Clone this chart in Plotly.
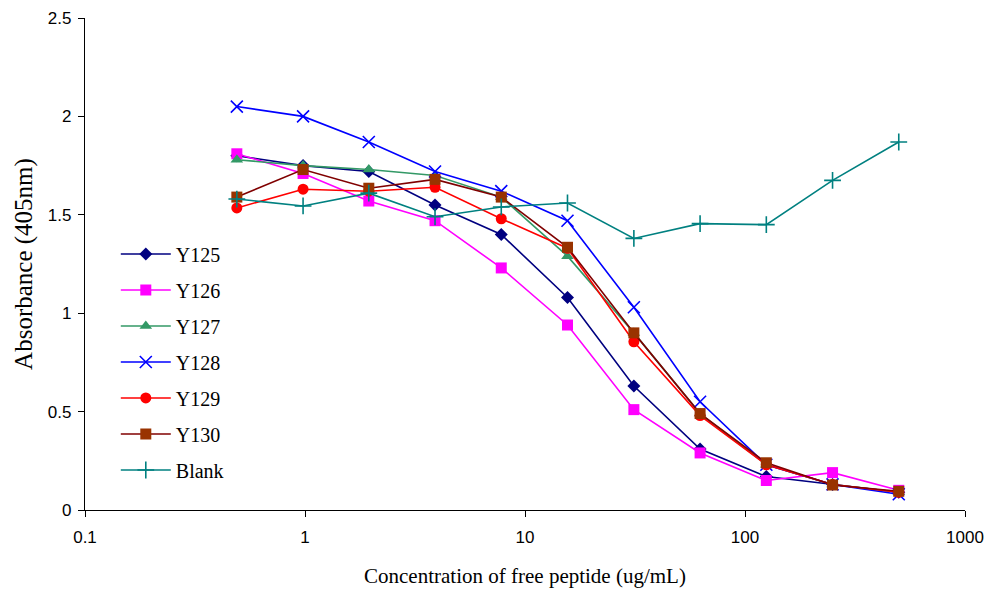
import plotly.graph_objects as go

conc = [0.49, 0.98, 1.95, 3.9, 7.8, 15.6, 31.25, 62.5, 125, 250, 500]

y125 = [1.80, 1.75, 1.72, 1.55, 1.40, 1.08, 0.63, 0.31, 0.17, 0.13, 0.09]
y126 = [1.81, 1.71, 1.57, 1.47, 1.23, 0.94, 0.51, 0.29, 0.15, 0.19, 0.10]
y127 = [1.78, 1.75, 1.73, 1.70, 1.59, 1.29, 0.90, 0.49, 0.23, 0.13, 0.09]
y128 = [2.05, 2.00, 1.87, 1.72, 1.62, 1.47, 1.03, 0.55, 0.23, 0.13, 0.08]
y129 = [1.535, 1.63, 1.62, 1.64, 1.48, 1.33, 0.855, 0.48, 0.23, 0.13, 0.09]
y130 = [1.59, 1.73, 1.635, 1.68, 1.59, 1.335, 0.90, 0.49, 0.24, 0.127, 0.095]
blank = [1.58, 1.545, 1.61, 1.49, 1.54, 1.56, 1.38, 1.455, 1.45, 1.675, 1.87]

names = ["Y125", "Y126", "Y127", "Y128", "Y129", "Y130", "Blank"]
series = [y125, y126, y127, y128, y129, y130, blank]
line_colors = ["#000080", "#FF00FF", "#339966", "#0000FF", "#FF0000", "#800000", "#008080"]
marker_colors = ["#000080", "#FF00FF", "#339966", "#0000FF", "#FF0000", "#993300", "#008080"]
symbols = ["diamond", "square", "triangle-up", "x-thin", "circle", "square", "cross-thin"]
sizes = [10, 11, 11, 12, 11, 11, 12]

fig = go.Figure()
for i, (n, ys) in enumerate(zip(names, series)):
    thin = symbols[i].endswith("thin")
    fig.add_trace(go.Scatter(
        x=conc, y=ys, name=n, mode="lines+markers",
        legendgroup=n,
        line=dict(color=line_colors[i], width=1.6),
        marker=dict(symbol=symbols[i], size=sizes[i], color=marker_colors[i],
                    line=dict(color=marker_colors[i], width=1.6 if thin else 0)),
    ))

fig.update_layout(
    width=999, height=590,
    margin=dict(l=85, r=34, t=18, b=80),
    paper_bgcolor="white", plot_bgcolor="white",
    showlegend=True,
    legend=dict(x=0.035, y=0.56, xanchor="left", yanchor="top",
                font=dict(family="Liberation Serif", size=20, color="black"),
                tracegroupgap=7, itemwidth=50, bgcolor="rgba(0,0,0,0)"),
    xaxis=dict(type="log", range=[-1, 3], showgrid=False, zeroline=False,
               automargin=False,
               showline=True, linecolor="black", linewidth=1.2,
               ticks="outside", ticklen=6, tickcolor="black",
               ticklabelstandoff=5,
               tickvals=[0.1, 1, 10, 100, 1000], ticktext=["0.1", "1", "10", "100", "1000"],
               tickfont=dict(family="Liberation Sans", size=17, color="black"),
               title=dict(text="Concentration of free peptide (ug/mL)",
                          font=dict(family="Liberation Serif", size=21, color="black"),
                          standoff=22)),
    yaxis=dict(range=[0, 2.5], showgrid=False, zeroline=False,
               automargin=False,
               showline=True, linecolor="black", linewidth=1.2,
               ticks="outside", ticklen=6, tickcolor="black",
               ticklabelstandoff=3,
               tickvals=[0, 0.5, 1, 1.5, 2, 2.5], ticktext=["0", "0.5", "1", "1.5", "2", "2.5"],
               tickfont=dict(family="Liberation Sans", size=17, color="black"),
               title=dict(text="Absorbance (405nm)",
                          font=dict(family="Liberation Serif", size=25, color="black"),
                          standoff=8)),
)

fig.write_html("out.html")
